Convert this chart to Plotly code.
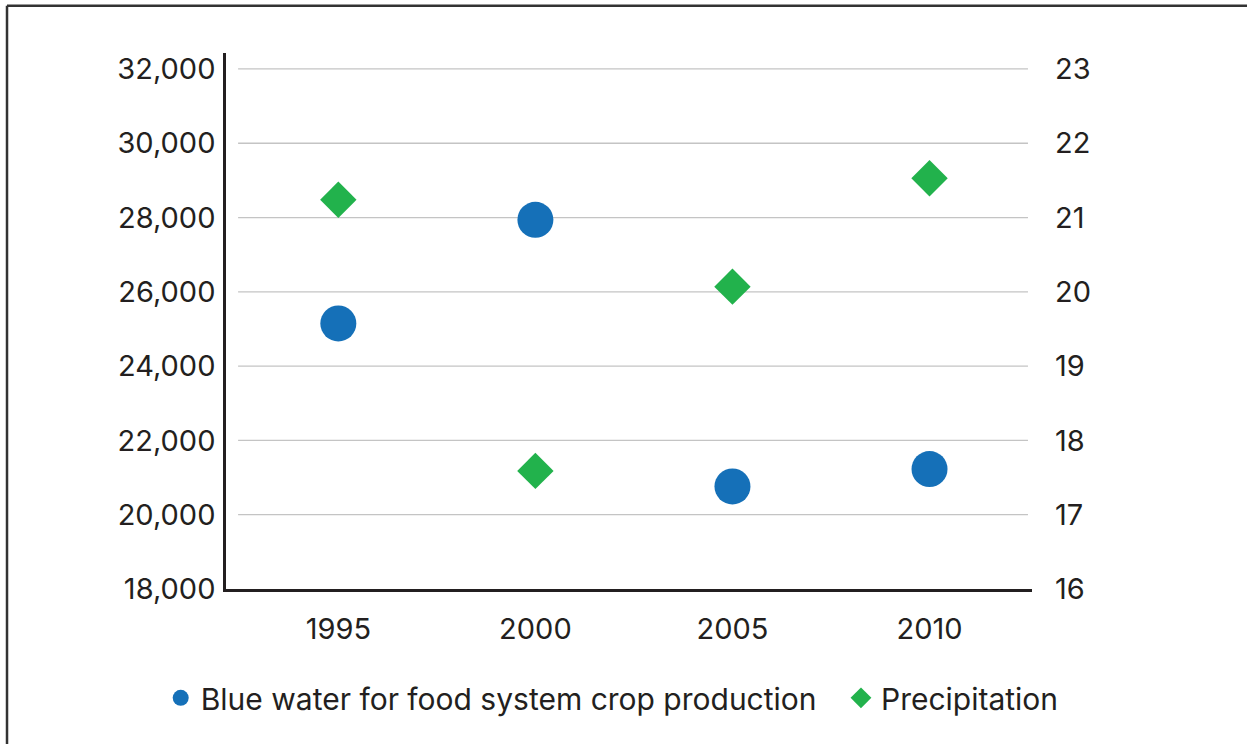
import plotly.graph_objects as go

# Years on the horizontal axis
years = ["1995", "2000", "2005", "2010"]

# Blue water withdrawn for food-system crop production (left axis)
blue_water = [25150, 27940, 20760, 21230]

# Precipitation (right axis)
precipitation = [21.24, 17.59, 20.07, 21.53]

# Axis tick values
left_ticks = [18000, 20000, 22000, 24000, 26000, 28000, 30000, 32000]
right_ticks = [16, 17, 18, 19, 20, 21, 22, 23]

BLUE = "#1570B8"
GREEN = "#22B24C"
TEXT = "#231F20"
FONT = "Inter"
TICK_SIZE = 29
LEGEND_SIZE = 30

x_pos = list(range(len(years)))

fig = go.Figure()

fig.add_trace(go.Scatter(
    x=x_pos, y=blue_water, mode="markers",
    name="Blue water for food system crop production",
    marker=dict(symbol="circle", size=36, color=BLUE),
    yaxis="y", legend="legend",
))
fig.add_trace(go.Scatter(
    x=x_pos, y=precipitation, mode="markers",
    name="Precipitation",
    marker=dict(symbol="diamond", size=28, color=GREEN),
    yaxis="y2", legend="legend2",
))

# Horizontal gridlines, inset a little from the left axis line
shapes = []
for v in left_ticks[1:]:
    shapes.append(dict(type="line", xref="paper", yref="y",
                       x0=0.015, x1=0.995, y0=v, y1=v,
                       line=dict(color="#C4C4C4", width=1.3), layer="below"))

# Frame around the figure (left and top edges)
shapes.append(dict(type="line", xref="paper", yref="paper",
                   x0=-0.2717, x1=-0.2717, y0=1.088, y1=-0.35,
                   line=dict(color="#333333", width=2.5)))
shapes.append(dict(type="line", xref="paper", yref="paper",
                   x0=-0.2717, x1=1.4, y0=1.088, y1=1.088,
                   line=dict(color="#333333", width=2.5)))

legend_common = dict(orientation="h", xanchor="left", y=-0.203, yanchor="middle",
                     font=dict(family=FONT, size=LEGEND_SIZE, color=TEXT),
                     itemsizing="trace", bgcolor="rgba(0,0,0,0)")

fig.update_layout(
    width=1247, height=744,
    margin=dict(l=226, r=215, t=53, b=155),
    paper_bgcolor="white", plot_bgcolor="white",
    font=dict(family=FONT, size=TICK_SIZE, color=TEXT),
    showlegend=True,
    legend=dict(x=-0.081, **legend_common),
    legend2=dict(x=0.763, **legend_common),
    xaxis=dict(
        range=[-0.57, 3.52], tickmode="array", tickvals=x_pos, ticktext=years,
        showgrid=False, zeroline=False, showline=True,
        linecolor="#231F20", linewidth=2.5, ticks="",
        ticklabelstandoff=12,
    ),
    yaxis=dict(
        range=[18000, 32430], tickmode="array", tickvals=left_ticks,
        tickformat=",d", showgrid=False, zeroline=False, showline=True,
        linecolor="#231F20", linewidth=2.5, ticks="", ticklabelstandoff=2,
    ),
    yaxis2=dict(
        range=[16, 23.215], tickmode="array", tickvals=right_ticks,
        overlaying="y", side="right", showgrid=False, zeroline=False,
        showline=False, ticks="", ticklabelstandoff=22,
    ),
    shapes=shapes,
)

fig.write_html("out.html")
